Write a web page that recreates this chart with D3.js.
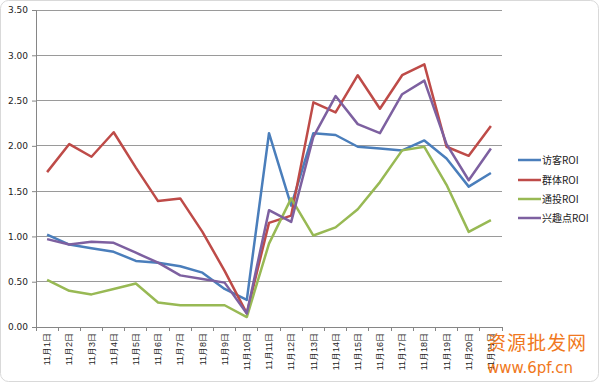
<!DOCTYPE html>
<html><head><meta charset="utf-8">
<script src="https://cdn.jsdelivr.net/npm/d3@7"></script>
<style>body{margin:0;background:#fff;}svg{display:block;font-family:"Noto Sans CJK SC","DejaVu Sans",sans-serif;}</style>
</head><body>
<svg id="c" width="600" height="383"></svg>
<script>
const categories = ["11月1日","11月2日","11月3日","11月4日","11月5日","11月6日","11月7日","11月8日","11月9日","11月10日","11月11日","11月12日","11月13日","11月14日","11月15日","11月16日","11月17日","11月18日","11月19日","11月20日","11月21日"];
const visitorROI = [1.02,0.91,0.87,0.83,0.73,0.71,0.67,0.60,0.42,0.30,2.14,1.34,2.14,2.12,1.99,1.97,1.95,2.06,1.86,1.55,1.70];
const groupROI   = [1.71,2.02,1.88,2.15,1.76,1.39,1.42,1.05,0.62,0.15,1.15,1.23,2.48,2.37,2.78,2.41,2.78,2.90,1.99,1.89,2.22];
const broadROI   = [0.52,0.40,0.36,0.42,0.48,0.27,0.24,0.24,0.24,0.11,0.92,1.42,1.01,1.10,1.30,1.60,1.95,1.99,1.57,1.05,1.18];
const interestROI= [0.97,0.91,0.94,0.93,0.82,0.71,0.57,0.53,0.49,0.15,1.29,1.16,2.10,2.55,2.24,2.14,2.57,2.72,2.02,1.62,1.97];
const seriesNames = ["访客ROI","群体ROI","通投ROI","兴趣点ROI"];
const seriesColors = ["#4a7ebb","#be4b48","#98b954","#7d60a0"];
const yTicks = [0,0.5,1,1.5,2,2.5,3,3.5];

const svg = d3.select("#c");
svg.append("rect").attr("x",0.5).attr("y",0.5).attr("width",598).attr("height",381)
  .attr("rx",8).attr("fill","#fff").attr("stroke","#d9d9d9");

const L=36,R=502,T=10,B=327;
const x = d3.scaleBand().domain(categories).range([L,R]);
const y = d3.scaleLinear().domain([0,3.5]).range([B,T]);

svg.append("g").selectAll("line").data(yTicks.filter(d=>d>0)).join("line")
  .attr("x1",L).attr("x2",R).attr("y1",d=>y(d)).attr("y2",d=>y(d))
  .attr("stroke","#9a9a9a").attr("stroke-width",1).attr("shape-rendering","crispEdges");

const ya = svg.append("g").attr("transform",`translate(${L},0)`)
  .call(d3.axisLeft(y).tickValues(yTicks).tickFormat(d3.format(".2f")).tickSize(4).tickPadding(4));
ya.select(".domain").attr("stroke","#868686");
ya.selectAll(".tick line").attr("stroke","#868686");
ya.selectAll("text").attr("font-size",9).attr("fill","#222").attr("font-family","DejaVu Sans, sans-serif");

const xa = svg.append("g").attr("transform",`translate(0,${B})`)
  .call(d3.axisBottom(x).tickSize(0).tickSizeOuter(0));
xa.select(".domain").attr("stroke","#868686");
xa.selectAll(".tick line").remove();
svg.append("g").selectAll("line").data(d3.range(categories.length+1)).join("line")
  .attr("x1",i=>L+i*x.step()).attr("x2",i=>L+i*x.step()).attr("y1",B).attr("y2",B+4)
  .attr("stroke","#868686").attr("shape-rendering","crispEdges");
xa.selectAll(".tick text")
  .attr("transform","rotate(-90)").attr("text-anchor","end")
  .attr("x",-6).attr("y",0).attr("dy","0.35em")
  .attr("font-size",9).attr("fill","#222");

const allSeries = [visitorROI, groupROI, broadROI, interestROI];
const line = d3.line().x((d,i)=>x(categories[i])+x.bandwidth()/2).y(d=>y(d));
allSeries.forEach((s,k)=>{
  svg.append("path").datum(s).attr("d",line).attr("fill","none")
    .attr("stroke",seriesColors[k]).attr("stroke-width",2.5).attr("stroke-linejoin","round");
});

const lg = svg.append("g");
const ly = [160,180,199,218];
seriesNames.forEach((n,k)=>{
  lg.append("line").attr("x1",518).attr("x2",541).attr("y1",ly[k]).attr("y2",ly[k])
    .attr("stroke",seriesColors[k]).attr("stroke-width",2.5);
  lg.append("text").attr("x",542).attr("y",ly[k]).attr("dy","0.35em")
    .attr("font-size",10).attr("fill","#222").text(n);
});

svg.append("text").attr("x",487).attr("y",350).attr("font-size",19).attr("fill","#f07820")
  .attr("font-family","Noto Sans CJK SC").attr("letter-spacing",1).text("资源批发网");
svg.append("text").attr("x",487).attr("y",373).attr("font-size",15).attr("fill","#f07820")
  .attr("font-family","DejaVu Sans").text("www.6pf.cn");
</script>
</body></html>
